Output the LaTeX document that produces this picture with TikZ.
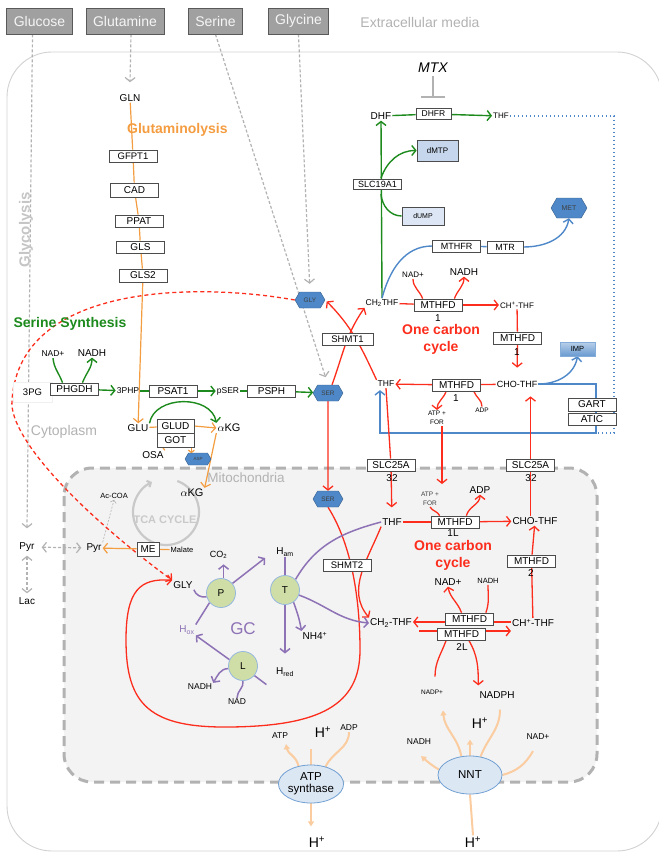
\documentclass[tikz,border=0pt]{standalone}
\usepackage{fontspec}
\setmainfont{Liberation Sans}
\usetikzlibrary{arrows.meta,shapes.geometric,shapes.symbols,calc,backgrounds}
\newcommand\fsz[1]{\fontsize{#1}{#1}\selectfont}
\definecolor{cred}{RGB}{252,45,28}
\definecolor{cgreen}{RGB}{28,138,28}
\definecolor{corange}{RGB}{244,156,64}
\definecolor{cpeach}{RGB}{250,204,160}
\definecolor{cpurple}{RGB}{142,114,182}
\definecolor{cblue}{RGB}{78,136,200}
\definecolor{cgray}{RGB}{178,178,178}
\definecolor{cmito}{RGB}{243,243,243}
\definecolor{cbox}{RGB}{160,160,160}
\definecolor{ccirc}{RGB}{207,222,166}
\definecolor{cmemb}{RGB}{220,231,244}
\definecolor{clight}{RGB}{198,214,236}
\tikzset{
  barb/.style={-{Straight Barb[length=4pt,width=10pt]}},
  sbarb/.style={-{Straight Barb[length=2.5pt,width=6pt]}},
  ptip/.style={-{Triangle[length=5pt,width=6pt]}},
  enz/.style={draw=black!70, fill=white, line width=0.7pt, inner sep=1pt, minimum width=48pt, minimum height=12pt, font=\fsz{10}},
  met/.style={inner sep=1pt, font=\fsz{10}},
  smet/.style={inner sep=1pt, font=\fsz{7.5}},
  heading/.style={inner sep=0pt, font=\bfseries\fsz{14}},
  hexa/.style={shape=signal, signal to=east and west, signal pointer angle=120, fill=cblue, draw=cblue!70!black, line width=0.4pt, minimum width=30pt, minimum height=16pt, inner sep=0pt, text=black!75, font=\fsz{6.5}},
  ext/.style={draw=black!65, fill=cbox, text=black!4, line width=0.8pt, minimum height=26pt, inner xsep=7pt, font=\fsz{14}},
  gcirc/.style={circle, draw=cblue!60, fill=ccirc, line width=0.8pt, minimum size=29pt, inner sep=0pt, font=\fsz{10}},
  memb/.style={ellipse, draw=cblue!80, fill=cmemb, line width=0.8pt, minimum width=64pt, minimum height=38pt, inner sep=0pt, align=center, font=\fontsize{11.5}{12}\selectfont},
  gdash/.style={draw=cgray, line width=1.2pt, dash pattern=on 3pt off 2pt},
  rl/.style={draw=cred, line width=1.3pt},
  gl/.style={draw=cgreen, line width=1.4pt},
  ol/.style={draw=corange, line width=1.2pt},
  pl/.style={draw=cpurple, line width=1.5pt},
  pk/.style={draw=cpeach, line width=2pt},
  bl/.style={draw=cblue, line width=1.4pt},
}
\begin{document}
\begin{tikzpicture}[x=1pt,y=1pt]
\useasboundingbox (0,0) rectangle (658,-853);
%%%%% compartments %%%%%
\begin{scope}[on background layer]
  \draw[cgray!60, line width=0.9pt, rounded corners=45pt] (7,-52) rectangle (662,-851);
  \draw[cgray, line width=3pt, dash pattern=on 10pt off 6pt, fill=cmito, rounded corners=28pt] (64,-468) rectangle (597,-782);
\end{scope}
\node[font=\fsz{14}, text=cgray] (extlab) at (420,-22) {Extracellular media};
\node[font=\fsz{14}, text=cgray] (cytolab) at (64,-432) {Cytoplasm};
\node[font=\fsz{13.5}, text=cgray] (mitolab) at (246,-478) {Mitochondria};
\node[font=\bfseries\fsz{15}, text=cgray!75, rotate=90] (glycolab) at (26,-230) {Glycolysis};

%%%%% extracellular %%%%%
\node[ext] (glucose) at (39.5,-21) {Glucose};
\node[ext] (glutamine) at (125,-21) {Glutamine};
\node[ext] (serine) at (215.5,-21) {Serine};
\node[ext] (glycine) at (298.5,-21) {Glycine};

%%%%% glutaminolysis %%%%%
\node[met] (gln) at (130,-98) {GLN};
\node[heading, text=corange, anchor=west] (glnlab) at (127,-130) {Glutaminolysis};
\node[enz, font=\fsz{9.5}] (gfpt1) at (133,-156) {GFPT1};
\node[enz, minimum height=14pt] (cad) at (134.5,-190) {CAD};
\node[enz] (ppat) at (139,-221) {PPAT};
\node[enz] (gls) at (140.5,-247) {GLS};
\node[enz, minimum height=13pt] (gls2) at (143,-275.5) {GLS2};
\node[met] (glu) at (138,-428) {GLU};

%%%%% serine synthesis %%%%%
\node[heading, text=cgreen] (serlab) at (70,-324) {Serine Synthesis};
\node[met, font=\fsz{8.5}] (nadA) at (53,-354) {NAD+};
\node[met] (nadhA) at (92,-353) {NADH};
\node[met, fill=white, draw=black!6, minimum width=39pt, minimum height=20pt, font=\fsz{9.5}] (pg3) at (32.5,-392) {3PG};
\node[enz] (phgdh) at (74.5,-389) {PHGDH};
\node[met, font=\fsz{8.5}] (php3) at (128,-391) {3PHP};
\node[enz] (psat1) at (173,-391) {PSAT1};
\node[met, font=\fsz{8.5}] (pser) at (228,-391) {pSER};
\node[enz] (psph) at (271.5,-391) {PSPH};
\node[hexa] (serc) at (328,-393) {SER};
\node[enz, minimum width=37pt, minimum height=14pt] (glud) at (175.5,-426) {GLUD};
\node[enz, minimum width=37pt, minimum height=14pt] (got) at (175.5,-440) {GOT};
\node[met, font=\fsz{11}] (akgc) at (229,-428) {$\alpha$KG};
\node[met] (osa) at (153,-455) {OSA};
\node[hexa, minimum width=26pt, minimum height=12pt, font=\fsz{4.5}] (asp) at (198,-459) {ASP};

%%%%% TCA and malic enzyme %%%%%
\node[met, font=\fsz{11}] (akgm) at (192,-493) {$\alpha$KG};
\coordinate (tcac) at (166,-512);
\node[font=\bfseries\fsz{11}, text=cgray!70] (tcalab) at (165,-520) {TCA CYCLE};
\node[smet] (acoa) at (114,-496) {Ac-COA};
\node[met] (pyrm) at (94,-548) {Pyr};
\node[enz, minimum width=22pt, minimum height=14pt] (me) at (148,-549) {ME};
\node[smet] (malate) at (182,-550) {Malate};
\node[met] (pyrc) at (27,-547) {Pyr};
\node[met] (lac) at (27,-601) {Lac};

%%%%% glycine cleavage %%%%%
\node[met] (glym) at (183,-585) {GLY};
\node[gcirc] (gcP) at (221,-593) {P};
\node[gcirc] (gcT) at (285,-590) {T};
\node[gcirc] (gcL) at (243,-666) {L};
\node[met, font=\fsz{9}] (co2) at (218.5,-555) {CO\textsubscript{2}};
\node[met] (ham) at (285,-552) {H\textsubscript{am}};
\node[met, text=cpurple] (hox) at (187,-630) {H\textsubscript{ox}};
\node[font=\fsz{17}, text=cpurple] (gclab) at (243,-629) {GC};
\node[met] (nh4) at (315,-636) {NH4\textsuperscript{+}};
\node[met] (hred) at (285,-672) {H\textsubscript{red}};
\node[met, font=\fsz{8.5}] (nadhL) at (200,-687) {NADH};
\node[met, font=\fsz{8.5}] (nadL) at (237,-702) {NAD};

%%%%% mitochondrial folate cycle %%%%%
\node[hexa] (serm) at (328,-499) {SER};
\node[enz, font=\fsz{9.5}] (shmt2) at (347,-565) {SHMT2};
\node[met] (thfm) at (392,-522) {THF};
\node[enz] (slcL) at (391,-465) {SLC25A};
\node[met] (slcLn) at (392,-478) {32};
\node[enz] (mthfdA) at (455,-522) {MTHFD};
\node[met, inner sep=0pt] (mthfdAn) at (453,-533) {1L};
\node[smet, align=center, font=\fontsize{6.5}{9}\selectfont, text=black!75] (atpform) at (430,-499) {ATP +\\FOR};
\node[met] (adpm) at (480,-490) {ADP};
\node[met] (chom) at (535,-521) {CHO-THF};
\node[enz] (slcR) at (530.5,-465) {SLC25A};
\node[met] (slcRn) at (531,-478) {32};
\node[heading, text=cred, align=center, font=\bfseries\fontsize{14}{17}\selectfont] (ocm) at (453,-555) {One carbon\\cycle};
\node[enz] (mthfdB) at (531.5,-561) {MTHFD};
\node[met] (mthfdBn) at (531,-573) {2};
\node[met] (nadm) at (448,-582) {NAD+};
\node[smet] (nadhm) at (488,-581) {NADH};
\node[met] (chpm) at (533,-623) {CH\textsuperscript{+}-THF};
\node[met] (ch2m) at (391,-623) {CH\textsubscript{2}-THF};
\node[enz] (mthfdC) at (469.5,-619) {MTHFD};
\node[enz] (mthfdD) at (461.5,-634) {MTHFD};
\node[met] (mthfdDn) at (462,-647) {2L};
\node[met, font=\fsz{6.5}] (nadpp) at (432,-692) {NADP+};
\node[met] (nadph) at (497,-695) {NADPH};
\node[met, font=\fsz{14}] (hpm) at (480,-723) {H\textsuperscript{+}};
\node[memb] (nnt) at (470,-775) {NNT};
\node[met, font=\fsz{8.5}] (nadhN) at (419,-742) {NADH};
\node[met, font=\fsz{8.5}] (nadN) at (538,-737) {NAD+};
\node[met, font=\fsz{14}] (hpn) at (473,-842) {H\textsuperscript{+}};
\node[memb] (atps) at (311,-784) {ATP\\synthase};
\node[met, font=\fsz{8.5}] (atp) at (280,-736) {ATP};
\node[met, font=\fsz{14}] (hpa) at (323,-732) {H\textsuperscript{+}};
\node[met, font=\fsz{8.5}] (adpa) at (349,-728) {ADP};
\node[met, font=\fsz{14}] (hpb) at (317,-842) {H\textsuperscript{+}};

%%%%% cytosolic folate cycle %%%%%
\node[font=\itshape\fsz{14}] (mtx) at (433,-68) {MTX};
\coordinate (mtxbar) at (433,-98);
\node[met] (dhf) at (381,-116) {DHF};
\node[enz, minimum width=35pt, minimum height=11pt, font=\fsz{8.5}] (dhfr) at (433.5,-114) {DHFR};
\node[met, font=\fsz{8}] (thfc) at (501,-116) {THF};
\node[enz, minimum height=10pt, font=\fsz{9}] (slc19) at (377.5,-184) {SLC19A1};
\node[enz, fill=clight, minimum width=41pt, minimum height=21pt, font=\fsz{8}] (dmtp) at (437.5,-150.5) {dMTP};
\node[enz, fill=clight!60, minimum width=42pt, minimum height=18pt, font=\fsz{7}] (dump) at (423,-216) {dUMP};
\node[hexa, minimum width=36pt, minimum height=20pt, font=\fsz{7}] (methio) at (569,-208) {MET};
\node[enz, font=\fsz{9}] (mthfr) at (456.5,-246) {MTHFR};
\node[enz, minimum width=36pt, font=\fsz{9}] (mtr) at (505,-247) {MTR};
\node[met, font=\fsz{8.5}] (ch2c) at (382,-303) {CH\textsubscript{2}THF};
\node[enz] (mthfd1a) at (438,-305) {MTHFD};
\node[met] (n1a) at (438,-318) {1};
\node[met, font=\fsz{8}] (nadc) at (413,-275) {NAD+};
\node[met] (nadhc) at (464,-272) {NADH};
\node[met, font=\fsz{8}] (chpc) at (517,-305) {CH\textsuperscript{+}-THF};
\node[heading, text=cred, align=center, font=\bfseries\fontsize{14}{17}\selectfont] (occ) at (441,-339) {One carbon\\cycle};
\node[enz] (mthfd1b) at (517.5,-338) {MTHFD};
\node[met] (n1b) at (517,-352) {1};
\node[met, font=\fsz{9}] (choc) at (517,-384) {CHO-THF};
\node[enz] (mthfd1c) at (456.5,-385) {MTHFD};
\node[met] (n1c) at (456,-398) {1};
\node[met, font=\fsz{8.5}] (thfc2) at (386,-384) {THF};
\node[smet, align=center, font=\fontsize{6.5}{9}\selectfont] (atpfc) at (437,-418) {ATP +\\FOR};
\node[smet, font=\fsz{6.5}] (adpc) at (482,-410) {ADP};
\node[draw=cblue!70, top color=cblue!40, bottom color=cblue!85, minimum width=35pt, minimum height=14pt, inner sep=0pt, font=\fsz{7.5}] (imp) at (577.5,-349) {IMP};
\node[enz, minimum height=13pt] (gart) at (592,-404.5) {GART};
\node[enz, minimum height=12pt] (atic) at (592,-419) {ATIC};
\node[enz, font=\fsz{9.5}, minimum width=51pt] (shmt1) at (347.5,-339.5) {SHMT1};
\node[hexa] (glyc) at (310,-300) {GLY};
\coordinate (gsplit) at (381,-178);
\coordinate (gmerge) at (381,-194);
\coordinate (bcorner) at (596,-433);
\coordinate (dcorner) at (614,-433);

\begin{scope}[on background layer]
%%%%% uptake %%%%%
\draw[gdash, barb] ($(glucose.south)+(-7,0)$) -- ($(pyrc.north)+(0,13)$);
\draw[gdash, barb] ($(glutamine.south)+(6,0)$) -- ($(gln.north)+(0,11)$);
\draw[gdash, barb, shorten >=8pt] (serine.south) -- (serc.north);
\draw[gdash, barb, shorten >=8pt] (glycine.south) -- (glyc.north);
\draw[gdash, {Straight Barb[length=4pt,width=10pt]}-{Straight Barb[length=4pt,width=10pt]}, shorten <=3pt, shorten >=3pt] (pyrc) -- (lac);
\draw[gdash, {Straight Barb[length=4pt,width=10pt]}-{Straight Barb[length=4pt,width=10pt]}, shorten <=6pt, shorten >=4pt] (pyrc) -- (pyrm);
\draw[gdash, line width=0.6pt, dash pattern=on 2pt off 1.5pt, sbarb] (pyrm.north east) -- (acoa.south);

%%%%% glutaminolysis %%%%%
\draw[ol] (gln) -- (gfpt1) -- (cad) -- (ppat) -- (gls) -- (gls2);
\draw[ol, barb] (gls2) -- (glu);
\draw[ol] (glu) -- (glud);
\draw[ol, barb] (glud.east) -- (akgc.west);
\draw[ol] (osa.north east) to[out=60, in=-110] ($(got.south west)+(6,0)$);
\draw[ol, sbarb] ($(got.south east)+(-3,0)$) -- ++(0,-6);
\draw[ol, barb] (akgc.south west) -- (akgm.north east);
\draw[ol] (malate) -- (me);
\draw[ol, barb] (me) -- (pyrm);
\draw[cgray!70, line width=2.2pt, -{Straight Barb[length=3pt,width=7pt]}] ($(tcac)+(70:33)$) arc[start angle=70, end angle=-245, radius=33];

%%%%% serine synthesis %%%%%
\draw[gl, barb] (phgdh) -- (php3);
\draw[gl] (php3) -- (psat1);
\draw[gl, barb] (psat1) -- (pser);
\draw[gl] (pser) -- (psph);
\draw[gl, barb] (psph) -- (serc);
\draw[gl] (nadA.south) to[out=-85, in=110] ($(phgdh.north)+(-12,0)$);
\draw[gl, barb] ($(phgdh.north)+(8,0)$) to[out=70, in=-90] (nadhA.south);
\draw[gl, barb] (glu.north east) to[out=80, in=100, looseness=1.1] (akgc.north west);

%%%%% cytosolic folate cycle %%%%%
\draw[gl] (dhf) -- (dhfr);
\draw[gl, barb] (dhfr) -- (thfc);
\draw[gl, barb] (ch2c.north) -- (dhf.south);
\draw[gl, barb] (gsplit) to[out=70, in=180] (dmtp.west);
\draw[gl] (dump.west) to[out=180, in=-85] (gmerge);
\draw[cgray, line width=1.6pt, -{Bar[width=24pt]}] (mtx.south) -- (mtxbar);
\draw[bl] (ch2c.north) to[out=75, in=180] (mthfr.west);
\draw[bl] (mthfr) -- (mtr);
\draw[bl, barb] (mtr.east) to[out=0, in=-100] (methio.south);
\draw[bl, barb] (choc.east) to[out=0, in=-100] (imp.south);
\draw[bl, barb, shorten >=2pt] (choc.east) -| (bcorner) -| ($(thfc2.south)+(-6,0)$);
\draw[bl, line width=1.3pt, dash pattern=on 1.3pt off 2.7pt] (thfc.east) -| (dcorner) -- (bcorner);
\draw[rl, barb] ([xshift=4pt]serc.north) to[out=70, in=-125] (ch2c.south west);
\draw[rl, barb, shorten >=2pt] (thfc2.north west) to[out=115, in=-45] (glyc.east);
\draw[rl] (ch2c) -- (mthfd1a);
\draw[rl, barb] (mthfd1a) -- (chpc);
\draw[rl] (nadc.south) to[out=-90, in=110] ($(mthfd1a.north west)+(9,0)$);
\draw[rl, barb] ($(mthfd1a.north east)+(-8,0)$) to[out=70, in=-90] (nadhc.south);
\draw[rl] (chpc) -- (mthfd1b);
\draw[rl, barb, shorten >=12pt] (mthfd1b) -- (choc);
\draw[rl] (choc) -- (mthfd1c);
\draw[rl, barb] (mthfd1c) -- (thfc2);
\draw[rl, barb] ($(mthfd1c.south west)+(14,0)$) to[out=-110, in=90] (atpfc.north);
\draw[rl] (adpc.north) to[out=90, in=-70] ($(mthfd1c.south east)+(-7,0)$);
\draw[rl, barb] (serc) -- (serm);

%%%%% exchange %%%%%
\draw[rl] (thfc2.south) -- (slcL);
\draw[rl, barb, shorten >=10pt] (slcL) -- (thfm);
\draw[rl, barb, shorten >=7pt] ($(atpfc.south)+(5,0)$) -- ($(atpform.north)+(12,0)$);
\draw[rl] (slcR.south |- chom.north) -- (slcR.south);
\draw[rl, barb, shorten >=8pt] (slcR.north) -- (slcR.north |- choc.south);

%%%%% mitochondrial folate cycle %%%%%
\draw[rl] (thfm) -- (mthfdA);
\draw[rl, barb] (mthfdA) -- (chom);
\draw[rl] (atpform.south) to[out=-60, in=115] ($(mthfdA.north west)+(9,0)$);
\draw[rl, barb] ($(mthfdA.north east)+(-13,0)$) to[out=75, in=-90] (adpm.south);
\draw[rl] (chpm) -- (mthfdB);
\draw[rl, barb] (mthfdB) -- (chom);
\draw[rl, barb] ($(chpm.west)+(0,1)$) -- ($(ch2m.east)+(0,1)$);
\draw[rl, barb] ($(ch2m.east)+(6,-8)$) -- ($(chpm.west)+(0,-8)$);
\draw[rl] (nadhm.south) to[out=-90, in=70] ($(mthfdC.north east)+(-8,0)$);
\draw[rl, barb] ($(mthfdC.north)+(-8,0)$) to[out=110, in=-80] (nadm.south);
\draw[rl] ($(nadpp.north)+(3,12)$) to[out=90, in=-110] ($(mthfdD.south west)+(9,0)$);
\draw[rl, barb] ($(mthfdD.south east)+(-17,0)$) to[out=-60, in=90] ($(nadph.north west)+(0,5)$);
\draw[rl, barb] (thfm.south west) to[out=-112, in=130] (ch2m.north west);
\draw[rl, barb] (serm.south) .. controls (352,-545) and (360,-600) .. (360,-650) .. controls (360,-705) and (320,-726) .. (230,-727) .. controls (150,-728) and (126,-705) .. (126,-640) .. controls (126,-590) and (140,-578) .. (glym.north west);
\draw[rl, dash pattern=on 4pt off 3pt, barb] (glyc.west) .. controls (200,-283) and (20,-282) .. (12,-400) .. controls (8,-440) and (90,-520) .. (glym.north west);

%%%%% glycine cleavage %%%%%
\draw[pl] (glym.south east) to[out=-70, in=190] (gcP.195);
\draw[pl, barb] (gcP.80) -- ++(0,14);
\draw[pl, barb] (gcP.40) -- ($(ham.west)+(-10,-6)$);
\draw[pl] (gcP.220) -- (hox.north east);
\draw[pl] (ham.south) -- (gcT.north);
\draw[pl, barb] (gcT.south) -- ($(hred.north)+(0,13)$);
\draw[pl, barb] (gcT.-55) to[out=-70, in=100] (nh4.north west);
\draw[pl, barb] (gcT.-20) to[out=-20, in=175] (ch2m.west);
\draw[pl] (thfm.west) to[out=195, in=60] (gcT.45);
\draw[pl, barb] (gcL.155) -- (hox.south east);
\draw[pl, barb] (gcL.190) to[out=180, in=60] (nadhL.north east);
\draw[pl] (gcL.south) to[out=-80, in=90] (nadL.north);
\draw[pl] (gcL.-40) -- ++(12,-9);

%%%%% membrane %%%%%
\draw[pk, ptip] (atps.125) to[out=100, in=-80] ($(atp.south)+(6,-4)$);
\draw[pk] (atps.north) -- ++(0,16);
\draw[pk] (adpa.south) to[out=-90, in=65] (atps.50);
\draw[pk, ptip] (atps.south) -- ++(0,-23);
\draw[pk] (hpn.north) -- (nnt.south);
\draw[pk, ptip] (nnt.north) -- ++(0,16);
\draw[pk, ptip] (nnt.115) to[out=100, in=-85] ($(nadpp.south)+(11,-15)$);
\draw[pk, ptip] (nnt.170) to[out=150, in=-40] ($(nadhN.south)+(2,-10)$);
\draw[pk] ($(nadph.south)+(3,-10)$) to[out=-90, in=70] (nnt.60);
\draw[pk] (nnt.east) to[out=15, in=-120] ($(nadN.south)+(-5,-10)$);
\end{scope}
\end{tikzpicture}
\end{document}
